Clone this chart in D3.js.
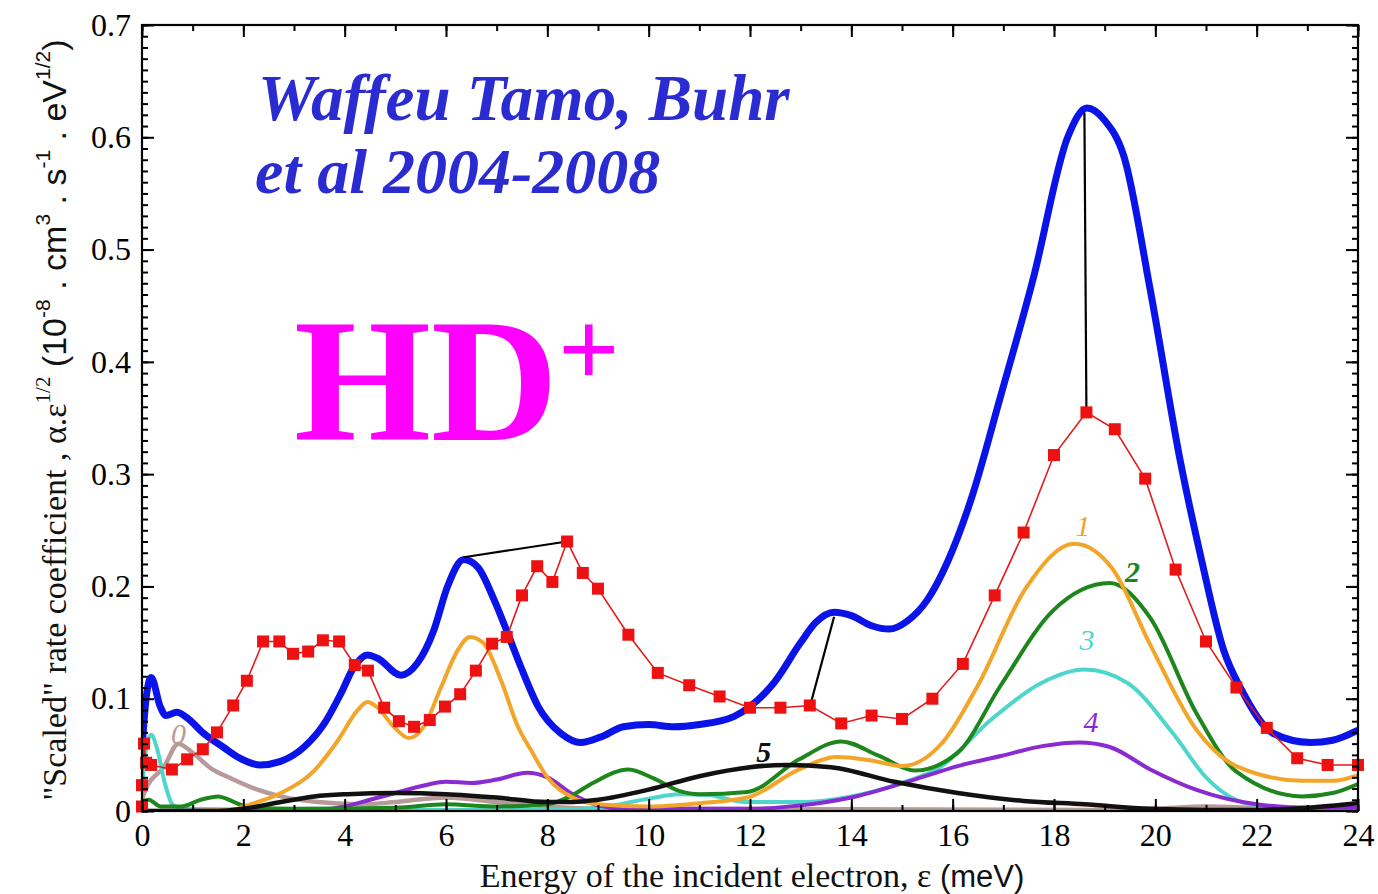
<!DOCTYPE html>
<html>
<head>
<meta charset="utf-8">
<script src="https://cdn.jsdelivr.net/npm/d3@7"></script>
<style>
  html,body{margin:0;padding:0;background:#fff;}
  svg{display:block;}
</style>
</head>
<body>
<svg id="chart" width="1378" height="894"></svg>
<script>
// ---------------- DATA ----------------
const xTicks = [0,2,4,6,8,10,12,14,16,18,20,22,24];
const yTicks = [0,0.1,0.2,0.3,0.4,0.5,0.6,0.7];

// total theory (thick blue)
const totalTheory = [[0,0.055],[0.08,0.1],[0.18,0.119],[0.36,0.093],[0.47,0.085],[0.69,0.088],[0.89,0.083],[1.22,0.069],[1.6,0.057],[1.93,0.047],[2.33,0.041],[2.72,0.044],[3.2,0.057],[3.6,0.078],[3.93,0.105],[4.18,0.128],[4.45,0.139],[4.65,0.136],[5.11,0.121],[5.44,0.132],[5.76,0.161],[6.03,0.2],[6.35,0.224],[6.63,0.217],[6.95,0.188],[7.22,0.158],[7.48,0.128],[7.82,0.093],[8.27,0.069],[8.66,0.061],[9.06,0.066],[9.5,0.075],[10.0,0.077],[10.5,0.075],[11.0,0.077],[11.68,0.084],[12.0,0.093],[12.47,0.114],[13.0,0.150],[13.3,0.168],[13.66,0.177],[14.0,0.174],[14.4,0.165],[14.75,0.162],[15.1,0.169],[15.5,0.188],[15.9,0.222],[16.36,0.277],[16.95,0.37],[17.6,0.476],[18.27,0.6],[18.65,0.626],[19.0,0.615],[19.38,0.583],[19.9,0.464],[20.5,0.31],[20.9,0.226],[21.35,0.143],[21.7,0.108],[22.33,0.069],[23.06,0.061],[23.5,0.063],[24.0,0.072]];

// experiment (red squares)
const expE = [0,0,0.04,0.08,0.18,0.59,0.89,1.2,1.48,1.8,2.07,2.39,2.71,2.98,3.28,3.57,3.89,4.2,4.46,4.78,5.07,5.37,5.68,5.98,6.28,6.59,6.91,7.2,7.5,7.8,8.1,8.39,8.7,9.0,9.6,10.18,10.8,11.4,12.0,12.6,13.18,13.8,14.4,15.0,15.6,16.2,16.83,17.4,18.0,18.64,19.2,19.8,20.4,21.0,21.6,22.2,22.8,23.4,24.0];
const expV = [0.004,0.023,0.06,0.043,0.041,0.037,0.046,0.055,0.07,0.094,0.116,0.151,0.151,0.14,0.142,0.152,0.151,0.13,0.125,0.092,0.08,0.075,0.081,0.093,0.104,0.125,0.149,0.155,0.192,0.218,0.204,0.240,0.212,0.198,0.157,0.123,0.112,0.102,0.092,0.092,0.094,0.078,0.085,0.082,0.1,0.131,0.192,0.248,0.317,0.355,0.340,0.296,0.215,0.151,0.110,0.074,0.047,0.041,0.041];

// partial contributions, vibrational levels 0..5
const level0 = [[0,0.01],[0.07,0.019],[0.43,0.039],[0.72,0.06],[0.97,0.053],[1.36,0.038],[1.76,0.029],[2.28,0.019],[2.74,0.013],[3.47,0.008],[4.4,0.006],[5,0.008],[6,0.012],[7,0.008],[8,0.004],[9,0.002],[19,0.001],[20,0.002],[21,0.004],[22,0.003],[24,0.002]];
const level1 = [[0,0],[1.8,0.001],[2.0,0.004],[2.74,0.016],[3.4,0.036],[3.87,0.063],[4.26,0.09],[4.45,0.097],[4.65,0.092],[4.97,0.075],[5.27,0.065],[5.56,0.075],[5.9,0.11],[6.23,0.143],[6.47,0.155],[6.73,0.15],[7.08,0.117],[7.42,0.075],[7.68,0.054],[8.0,0.03],[8.5,0.012],[9.0,0.006],[10.0,0.004],[11.0,0.007],[11.95,0.012],[12.97,0.037],[13.7,0.048],[14.4,0.045],[15.0,0.04],[15.8,0.061],[16.5,0.112],[17.45,0.199],[18.4,0.238],[19.15,0.216],[19.9,0.148],[20.8,0.073],[21.6,0.040],[22.9,0.027],[23.5,0.027],[24,0.032]];
const level2 = [[0,0.008],[0.13,0.01],[0.37,0.004],[0.77,0.004],[1.16,0.01],[1.5,0.013],[1.82,0.008],[2.05,0.004],[3,0.002],[5,0.003],[6,0.006],[7,0.004],[8,0.006],[8.45,0.013],[8.9,0.025],[9.6,0.037],[10.1,0.029],[10.6,0.018],[11.0,0.015],[11.95,0.017],[12.97,0.046],[13.8,0.062],[14.55,0.049],[15.25,0.036],[16.1,0.052],[16.95,0.112],[17.97,0.178],[19.1,0.203],[19.9,0.172],[20.8,0.088],[21.6,0.035],[22.9,0.013],[23.5,0.016],[24,0.024]];
const level3 = [[0,0.02],[0.08,0.055],[0.18,0.068],[0.3,0.055],[0.45,0.025],[0.6,0.006],[0.8,0.002],[3,0.001],[8,0.001],[9,0.003],[10,0.011],[10.6,0.015],[11.2,0.014],[11.9,0.008],[13,0.008],[14,0.013],[15,0.025],[15.75,0.039],[16.75,0.081],[17.75,0.114],[18.6,0.126],[19.45,0.114],[20.35,0.069],[21.0,0.03],[21.5,0.012],[22,0.005],[23,0.002],[24,0.002]];
const level4 = [[0,0],[3.5,0.001],[4,0.004],[4.5,0.01],[5,0.016],[5.5,0.022],[6,0.026],[6.5,0.025],[7,0.028],[7.6,0.034],[8,0.03],[8.5,0.015],[9,0.005],[9.5,0.002],[12,0.002],[13,0.005],[14,0.012],[15.25,0.028],[16.1,0.04],[16.95,0.049],[17.8,0.058],[18.5,0.061],[19.1,0.057],[19.9,0.037],[20.8,0.019],[22,0.006],[23,0.003],[24,0.003]];
const level5 = [[0,0],[1.5,0],[2,0.002],[2.74,0.008],[3.4,0.013],[4.06,0.015],[5,0.016],[6,0.015],[7,0.012],[8,0.008],[8.5,0.008],[9,0.01],[10,0.019],[11,0.031],[12,0.039],[12.7,0.041],[13.6,0.039],[14.85,0.026],[16.1,0.016],[17.4,0.009],[18.6,0.006],[19.9,0.002],[21,0.001],[22,0.001],[23,0.003],[24,0.007]];

// black connector lines (theory peak -> experimental peak)
const connectors = [[[6.35,0.226],[8.39,0.240]],[[13.66,0.173],[13.2,0.096]],[[18.6,0.622],[18.64,0.355]]];

// curve labels
const curveLabels = [
  {t:"0", e:0.72, v:0.060, c:"#b99a9a", w:"normal"},
  {t:"1", e:18.57, v:0.245, c:"#f2a528", w:"normal"},
  {t:"2", e:19.55, v:0.204, c:"#1d861d", w:"bold"},
  {t:"3", e:18.65, v:0.143, c:"#4fd6cc", w:"normal"},
  {t:"4", e:18.73, v:0.070, c:"#8a2ad2", w:"normal"},
  {t:"5", e:12.27, v:0.044, c:"#111111", w:"bold"}
];

// ---------------- DRAW ----------------
const svg = d3.select("#chart");
const x = d3.scaleLinear().domain([0,24]).range([142,1358]);
const y = d3.scaleLinear().domain([0,0.7]).range([811,25]);
const serif = "'Liberation Serif','Times New Roman',serif";
const sans = "'Liberation Sans',Arial,sans-serif";

svg.append("defs").append("clipPath").attr("id","clip")
  .append("rect").attr("x",142).attr("y",25).attr("width",1216).attr("height",786);

const plot = svg.append("g").attr("clip-path","url(#clip)");
const line = d3.line().x(d=>x(d[0])).y(d=>y(d[1])).curve(d3.curveMonotoneX);

const comps = [
  {d:level0, c:"#b99a9a", w:4.5},
  {d:level3, c:"#4fd6cc", w:4},
  {d:level4, c:"#8a2ad2", w:4},
  {d:level2, c:"#1d861d", w:4},
  {d:level1, c:"#f2a528", w:4},
  {d:level5, c:"#111111", w:4.5}
];
comps.forEach(s=>{
  plot.append("path").datum(s.d).attr("d",line)
    .attr("fill","none").attr("stroke",s.c).attr("stroke-width",s.w)
    .attr("stroke-linejoin","round").attr("stroke-linecap","round");
});

plot.append("path").datum(totalTheory).attr("d",line)
  .attr("fill","none").attr("stroke","#0a14e8").attr("stroke-width",7)
  .attr("stroke-linejoin","round");

const expData = expE.map((e,i)=>[e,expV[i]]);
plot.append("path").datum(expData)
  .attr("d",d3.line().x(d=>x(d[0])).y(d=>y(d[1])))
  .attr("fill","none").attr("stroke","#e41a1a").attr("stroke-width",1.6);

connectors.forEach(c=>{
  plot.append("path").datum(c)
    .attr("d",d3.line().x(d=>x(d[0])).y(d=>y(d[1])))
    .attr("stroke","#000").attr("stroke-width",2.2).attr("fill","none");
});

svg.append("g").selectAll("rect").data(expData).join("rect")
  .attr("x",d=>x(d[0])-6).attr("y",d=>y(d[1])-6)
  .attr("width",12).attr("height",12).attr("fill","#ee1111");

// axes
function styleAxis(g, fs){
  g.select(".domain").remove();
  g.selectAll(".tick line").attr("stroke","#000").attr("stroke-width",2);
  g.selectAll("text").attr("font-family",serif).attr("font-size",fs).attr("fill","#000");
}
// minor
svg.append("g").attr("transform","translate(142,0)")
  .call(d3.axisLeft(y).tickValues(d3.range(0,71).map(i=>i/100)).tickSize(-6).tickFormat(""))
  .call(g=>styleAxis(g,0));
svg.append("g").attr("transform","translate(1358,0)")
  .call(d3.axisRight(y).tickValues(d3.range(0,71).map(i=>i/100)).tickSize(-6).tickFormat(""))
  .call(g=>styleAxis(g,0));
svg.append("g").attr("transform","translate(0,811)")
  .call(d3.axisBottom(x).tickValues(d3.range(0,25)).tickSize(-6).tickFormat(""))
  .call(g=>styleAxis(g,0));
svg.append("g").attr("transform","translate(0,25)")
  .call(d3.axisTop(x).tickValues(d3.range(0,25)).tickSize(-6).tickFormat(""))
  .call(g=>styleAxis(g,0));
// major
svg.append("g").attr("transform","translate(142,0)")
  .call(d3.axisLeft(y).tickValues(yTicks).tickSize(-12).tickPadding(11)
    .tickFormat(d=>d===0?"0":d3.format(".1f")(d)))
  .call(g=>styleAxis(g,32));
svg.append("g").attr("transform","translate(1358,0)")
  .call(d3.axisRight(y).tickValues(yTicks).tickSize(-12).tickFormat(""))
  .call(g=>styleAxis(g,0));
svg.append("g").attr("transform","translate(0,811)")
  .call(d3.axisBottom(x).tickValues(xTicks).tickSize(-12).tickPadding(12))
  .call(g=>styleAxis(g,32));
svg.append("g").attr("transform","translate(0,25)")
  .call(d3.axisTop(x).tickValues(xTicks).tickSize(-12).tickFormat(""))
  .call(g=>styleAxis(g,0));

svg.append("rect").attr("x",142).attr("y",25).attr("width",1216).attr("height",786)
  .attr("fill","none").attr("stroke","#000").attr("stroke-width",2.2);

// curve labels
svg.append("g").selectAll("text").data(curveLabels).join("text")
  .attr("x",d=>x(d.e)).attr("y",d=>y(d.v)).attr("text-anchor","middle")
  .attr("font-family",serif).attr("font-style","italic").attr("font-weight",d=>d.w)
  .attr("font-size",30).attr("fill",d=>d.c).text(d=>d.t);

// x axis title
const xt = svg.append("text").attr("x",752).attr("y",887).attr("text-anchor","middle")
  .attr("font-size",34).attr("fill","#111");
xt.append("tspan").attr("font-family",serif).text("Energy of the incident electron, ε ");
xt.append("tspan").attr("font-family",sans).attr("font-size",31).text("(meV)");

// y axis title
const yt = svg.append("text").attr("transform","translate(66,420) rotate(-90)")
  .attr("text-anchor","middle").attr("font-size",34).attr("fill","#111");
yt.append("tspan").attr("font-family",serif).text("\"Scaled\" rate coefficient , α.ε");
yt.append("tspan").attr("font-family",serif).attr("font-size",21).attr("dy",-16).text("1/2");
yt.append("tspan").attr("font-family",sans).attr("dy",16).text(" (10");
yt.append("tspan").attr("font-family",sans).attr("font-size",21).attr("dy",-16).text("-8");
yt.append("tspan").attr("font-family",sans).attr("dy",16).text(" . cm");
yt.append("tspan").attr("font-family",sans).attr("font-size",21).attr("dy",-16).text("3");
yt.append("tspan").attr("font-family",sans).attr("dy",16).text(" . s");
yt.append("tspan").attr("font-family",sans).attr("font-size",21).attr("dy",-16).text("-1");
yt.append("tspan").attr("font-family",sans).attr("dy",16).text(" . eV");
yt.append("tspan").attr("font-family",sans).attr("font-size",21).attr("dy",-16).text("1/2");
yt.append("tspan").attr("font-family",sans).attr("dy",16).text(")");

// annotations
svg.append("text").attr("x",258).attr("y",120)
  .attr("font-family",serif).attr("font-style","italic").attr("font-weight","bold")
  .attr("font-size",65).attr("fill","#2b2bd2").text("Waffeu Tamo, Buhr");
svg.append("text").attr("x",255).attr("y",193)
  .attr("font-family",serif).attr("font-style","italic").attr("font-weight","bold")
  .attr("font-size",64).attr("fill","#2b2bd2").text("et al 2004-2008");
const hd = svg.append("text").attr("x",294).attr("y",440)
  .attr("font-family",serif).attr("font-weight","bold").attr("font-size",176).attr("fill","#ff00ff");
hd.append("tspan").text("HD");
hd.append("tspan").attr("font-size",108).attr("dy",-54).text("+");
</script>
</body>
</html>
